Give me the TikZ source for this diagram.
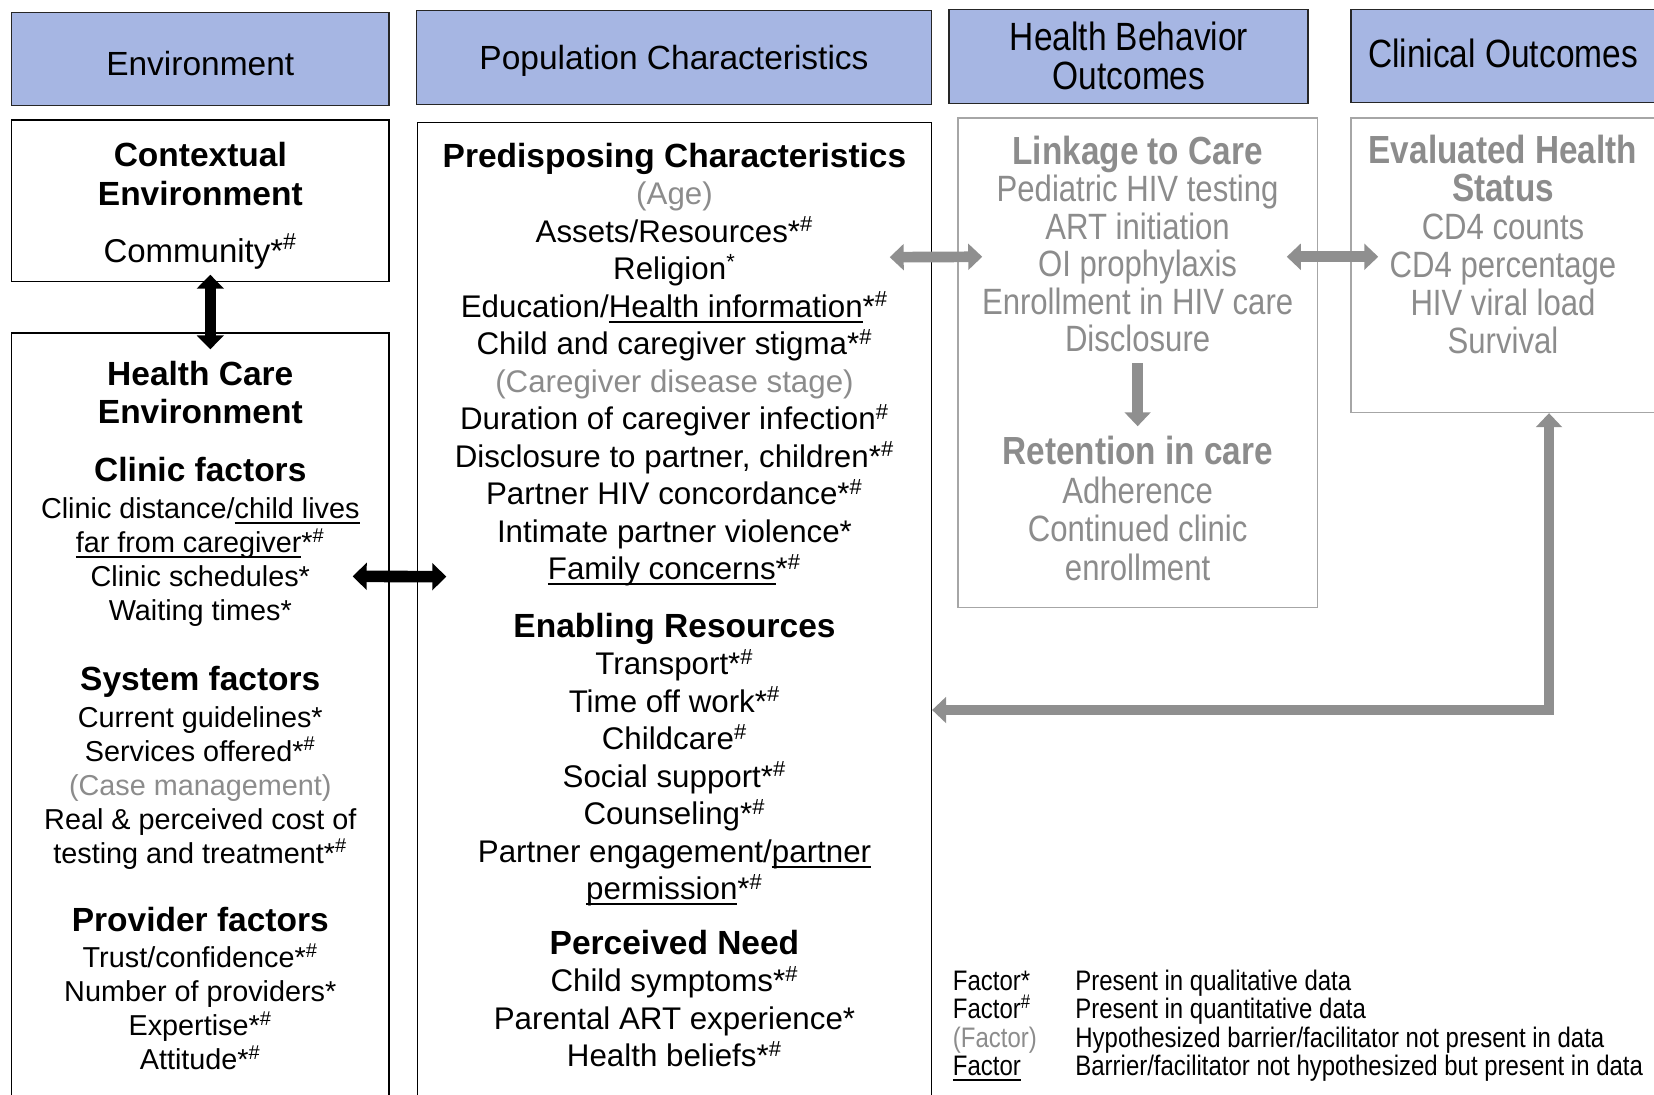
\documentclass[tikz,border=0pt]{standalone}
\usepackage{fontspec}
\setmainfont{Liberation Sans}
\newfontfamily\narrowfont[FakeStretch=0.85]{Liberation Sans}
\usetikzlibrary{arrows.meta,fit,calc}

\definecolor{hdrblue}{HTML}{A6B6E3}
\definecolor{boxgray}{HTML}{A6A6A6}
\definecolor{textgray}{HTML}{8C8C8C}
\definecolor{arrowgray}{HTML}{8F8F8F}

% data markers
\newcommand{\quan}{\textsuperscript{\#}}
\newcommand{\both}{*\textsuperscript{\#}}
% underline for factors not hypothesized
\newcommand{\uln}[1]{\leavevmode\setbox0=\hbox{#1}\rlap{\rule[-2.8pt]{\wd0}{0.9pt}}\box0}
% section headings
\newcommand{\hd}[1]{{\fontsize{16.75pt}{18pt}\selectfont\bfseries #1}}
\newcommand{\ghd}[1]{{\fontsize{19.6pt}{18pt}\selectfont\bfseries #1}}

\begin{document}
\begin{tikzpicture}[x=0.5pt, y=-0.5pt,
    hdrbox/.style={draw=black!85, line width=0.75pt, fill=hdrblue, inner sep=0pt},
    blkbox/.style={draw=black, line width=0.7pt, inner sep=0pt},
    graybox/.style={draw=boxgray, line width=0.75pt, inner sep=0pt},
    hdrtxt/.style={anchor=base, inner sep=0pt, align=center, font=\fontsize{16.75pt}{19.5pt}\selectfont},
    hdrntxt/.style={anchor=base, inner sep=0pt, align=center, font=\narrowfont\fontsize{19.7pt}{19.5pt}\selectfont},
    lefttxt/.style={anchor=base, inner sep=0pt, align=center, font=\fontsize{14.4pt}{17pt}\selectfont},
    popcol/.style={anchor=base, inner sep=0pt, align=center, font=\fontsize{15.65pt}{18.75pt}\selectfont},
    graytxt/.style={anchor=base, inner sep=0pt, align=center, text=textgray, font=\narrowfont\fontsize{18.3pt}{18.75pt}\selectfont},
    legtxt/.style={anchor=base west, inner sep=0pt, align=left, font=\narrowfont\fontsize{14.1pt}{14.25pt}\selectfont},
    blkarrow/.style={draw=black, line width=5.8pt, {Triangle[width=13.3pt,length=7pt]}-{Triangle[width=13.3pt,length=7pt]}},
    grayarrow/.style={draw=arrowgray, line width=5.35pt, {Triangle[width=12.8pt,length=7pt]}-{Triangle[width=12.8pt,length=7pt]}},
    graydown/.style={draw=arrowgray, line width=5.35pt, -{Triangle[width=12.8pt,length=7pt]}}
  ]
  \useasboundingbox (0,0) rectangle (1654,1094);

  % Header boxes
  \node[hdrbox, fit={(11.6,12.7) (389,105.5)}] (envhdr) {};
  \node[hdrbox, fit={(416.6,10.5) (931.4,104.4)}] (pophdr) {};
  \node[hdrbox, fit={(949,9.5) (1308,103.4)}] (behhdr) {};
  \node[hdrbox, fit={(1351,9.5) (1656,102.3)}] (clinhdr) {};

  % (multi-line nodes sit on the baseline of their last line)
  \node[hdrtxt] (envtxt) at (200.3,75) {Environment};
  \node[hdrtxt] (poptxt) at (674,69) {Population Characteristics};
  \node[hdrntxt] (behtxt) at (1129,89) {Health Behavior\\Outcomes};
  \node[hdrntxt] (clintxt) at (1503,67) {Clinical Outcomes};

  % Content boxes
  \node[blkbox, fit={(11.6,120) (389,281.6)}] (ctxbox) {};
  \node[blkbox, fit={(11.6,333) (389,1100)}] (hcebox) {};
  \node[blkbox, fit={(417.7,122.4) (931.4,1100)}] (popbox) {};
  \node[graybox, fit={(957.8,118) (1317.5,607.6)}] (lkbox) {};
  \node[graybox, fit={(1351,118) (1656,412.4)}] (evalbox) {};

  % Environment column
  \node[anchor=base, inner sep=0pt, align=center, font=\fontsize{16.5pt}{19.5pt}\selectfont] (ctxtxt) at (200.3,262)
    {\hd{Contextual}\\\hd{Environment}\\[9pt]Community\both};
  \node[anchor=base, inner sep=0pt, align=center, font=\fontsize{16.75pt}{19pt}\selectfont\bfseries] (hcetxt) at (200.3,423.4)
    {Health Care\\Environment};
  \node[lefttxt] (clinictxt) at (200.3,620.6)
    {\hd{Clinic factors}\\[1.5pt]Clinic distance/\uln{child lives}\\\uln{far from caregiver}\both\\Clinic schedules*\\Waiting times*};
  \node[lefttxt] (systxt) at (200.3,863.3)
    {\hd{System factors}\\[1.5pt]Current guidelines*\\Services offered\both\\\textcolor{textgray}{(Case management)}\\Real \& perceived cost of\\testing and treatment\both};
  \node[lefttxt] (provtxt) at (200.3,1069.5)
    {\hd{Provider factors}\\[1pt]Trust/confidence\both\\Number of providers*\\Expertise\both\\Attitude\both};

  % Population column
  \node[popcol] (predtxt) at (674.5,1066.5)
    {\hd{Predisposing Characteristics}\\
     \textcolor{textgray}{(Age)}\\
     Assets/Resources\both\\
     Religion\textsuperscript{*}\\
     Education/\uln{Health information}\both\\
     Child and caregiver stigma\both\\
     \textcolor{textgray}{(Caregiver disease stage)}\\
     Duration of caregiver infection\quan\\
     Disclosure to partner, children\both\\
     Partner HIV concordance\both\\
     Intimate partner violence*\\
     \uln{Family concerns}\both\\[10pt]
     \hd{Enabling Resources}\\
     Transport\both\\
     Time off work\both\\
     Childcare\quan\\
     Social support\both\\
     Counseling\both\\
     Partner engagement/\uln{partner}\\
     \uln{permission}\both\\[8.5pt]
     \hd{Perceived Need}\\
     Child symptoms\both\\
     Parental ART experience*\\
     Health beliefs\both};

  % Outcome columns
  \node[graytxt] (lktxt) at (1137.6,351.6)
    {\ghd{Linkage to Care}\\Pediatric HIV testing\\ART initiation\\OI prophylaxis\\Enrollment in HIV care\\Disclosure};
  \node[graytxt, font=\narrowfont\fontsize{18.3pt}{19.35pt}\selectfont] (rettxt) at (1137.6,580.5)
    {\ghd{Retention in care}\\Adherence\\Continued clinic\\enrollment};
  \node[graytxt, font=\narrowfont\fontsize{18.3pt}{19pt}\selectfont] (evaltxt) at (1503,353.8)
    {\ghd{Evaluated Health}\\\ghd{Status}\\CD4 counts\\CD4 percentage\\HIV viral load\\Survival};

  % Legend
  \node[legtxt] (legkey) at (952.5,1075.5)
    {Factor*\\Factor\quan\\\textcolor{textgray}{(Factor)}\\\uln{Factor}};
  \node[legtxt] (legdesc) at (1075,1075.5)
    {Present in qualitative data\\Present in quantitative data\\Hypothesized barrier/facilitator not present in data\\Barrier/facilitator not hypothesized but present in data};

  % Arrows
  \coordinate (elbow) at (1549,710);
  \draw[blkarrow] ($(ctxbox.south)+(10,-7.6)$) -- ($(hcebox.north)+(10,17)$); % context <-> health care
  \draw[blkarrow] ($(hcebox.north east)+(-37,244)$) -- ($(popbox.north west)+(29.3,455)$); % health care <-> population
  \draw[grayarrow] ($(popbox.north east)+(-42.4,135.5)$) -- ($(lkbox.north west)+(25.2,139.5)$); % population <-> behavior
  \draw[grayarrow] ($(lkbox.north east)+(-31.5,139.5)$) -- ($(evalbox.north west)+(28,139.5)$); % behavior <-> clinical
  \draw[graydown] ($(lkbox.north)+(0,246)$) -- ($(lkbox.north)+(0,309)$); % linkage to retention
  \draw[grayarrow] ($(evalbox.south)+(45.5,0)$) |- (popbox.east |- elbow); % clinical feedback
\end{tikzpicture}
\end{document}
